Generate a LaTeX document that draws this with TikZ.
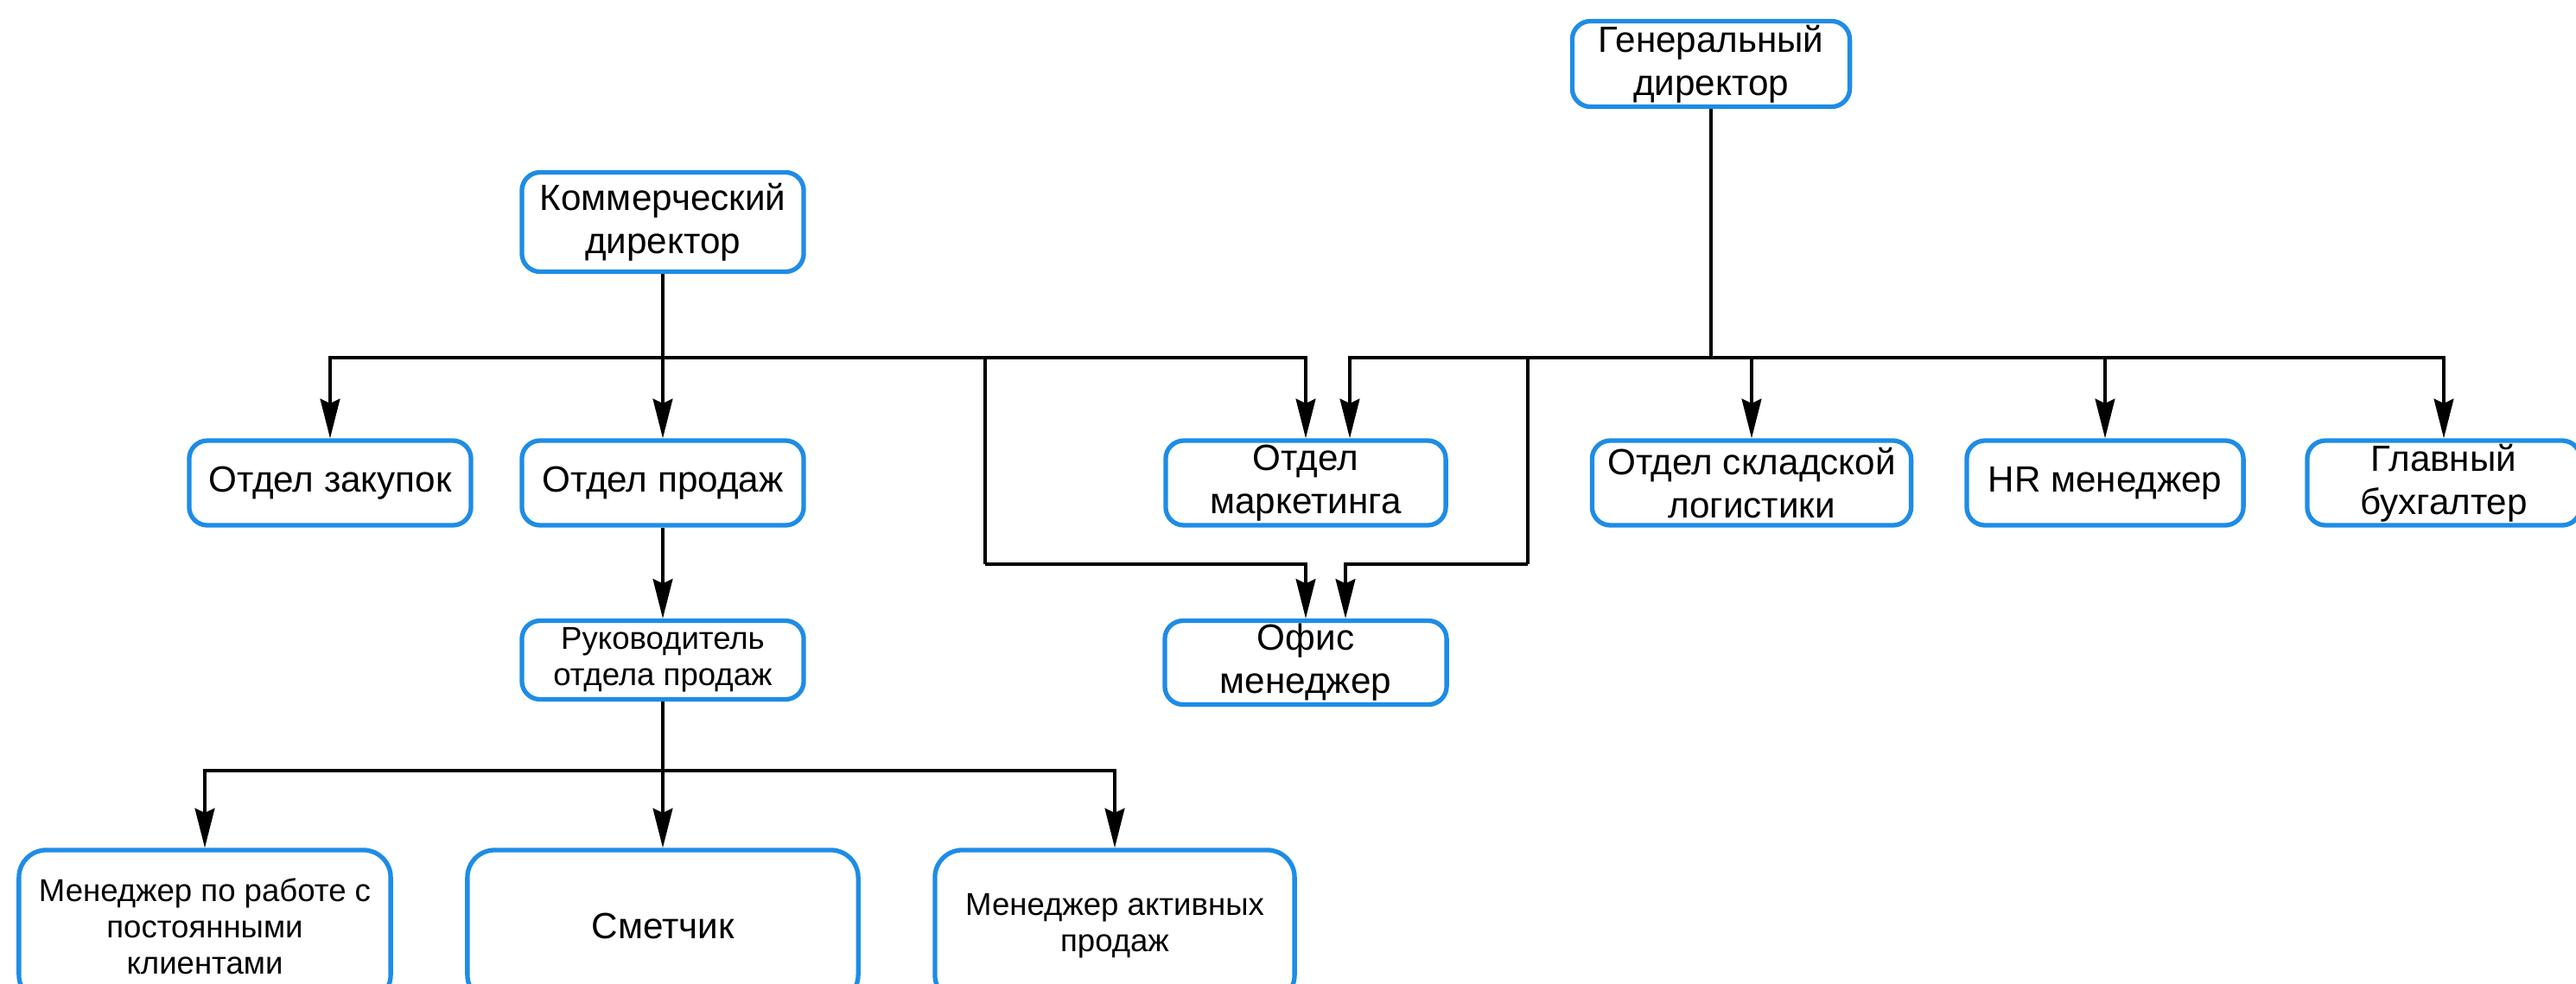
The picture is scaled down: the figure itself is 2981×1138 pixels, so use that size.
\documentclass[tikz,border=0pt]{standalone}
\usepackage{fontspec}
\setmainfont{Liberation Sans}
\usetikzlibrary{arrows.meta,calc}
\definecolor{boxblue}{RGB}{30,140,230}
\begin{document}
\begin{tikzpicture}[x=0.01cm,y=-0.01cm,
  box/.style={draw=boxblue, line width=1.5pt, rounded corners=6pt, fill=white, align=center, inner sep=0pt, font=\fontsize{12}{14.2}\selectfont},
  rowbox/.style={box, minimum height=0.98cm},
  bigbox/.style={box, rounded corners=9pt, minimum height=1.76cm},
  small/.style={font=\fontsize{10.4}{12}\selectfont},
  arr/.style={-{Stealth[length=13pt,width=6.5pt,inset=1.5pt]}, line width=0.9pt},
  ln/.style={line width=0.9pt}]
\useasboundingbox (0,0) rectangle (2981,1138);
% nodes
\node[box, minimum width=3.21cm, minimum height=0.99cm] (gd) at (1980,74) {Генеральный\\директор};
\node[box, minimum width=3.26cm, minimum height=1.15cm] (kd) at (767,257) {Коммерческий\\директор};
\node[rowbox, minimum width=3.26cm] (zak) at (382,559) {Отдел закупок};
\node[rowbox, minimum width=3.26cm] (prod) at (767,559) {Отдел продаж};
\node[rowbox, minimum width=3.24cm] (mark) at (1511,559) {Отдел\\маркетинга};
\node[rowbox, minimum width=3.69cm] (sklad) at (2027,559) {Отдел складской\\логистики};
\node[rowbox, minimum width=3.20cm] (hr) at (2436,559) {HR менеджер};
\node[rowbox, minimum width=3.16cm] (buh) at (2828,559) {Главный\\бухгалтер};
\node[box, small, minimum width=3.26cm, minimum height=0.91cm] (ruk) at (767,764) {Руководитель\\отдела продаж};
\node[box, minimum width=3.26cm, minimum height=0.97cm] (office) at (1511,767) {Офис\\менеджер};
\node[bigbox, small, minimum width=4.30cm] (m1) at (237,1072) {Менеджер по работе с\\постоянными\\клиентами};
\node[bigbox, minimum width=4.52cm] (sm) at (767,1072) {Сметчик};
\node[bigbox, small, minimum width=4.16cm] (m2) at (1290,1072) {Менеджер активных\\продаж};
% junctions
\coordinate (kj) at (767,414);
\coordinate (kd2) at (1140,414);
\coordinate (kd2b) at (1140,653);
\coordinate (gj) at (1980,414);
\coordinate (gd2) at (1768,414);
\coordinate (gd2b) at (1768,653);
\coordinate (rj) at (767,892);
% connectors
\draw[arr] (kd) -- (prod);
\draw[arr] (kj) -| (zak.north);
\draw[arr] (kj) -| (mark.north);
\draw[ln] (kd2) -- (kd2b);
\draw[arr] (kd2b) -| (office.north);
\draw[ln] (gd) -- (gj);
\draw[arr] (gj) -| ($(mark.north)+(51,0)$);
\draw[arr] (gj) -| (sklad.north);
\draw[arr] (gj) -| (hr.north);
\draw[arr] (gj) -| (buh.north);
\draw[ln] (gd2) -- (gd2b);
\draw[arr] (gd2b) -| ($(office.north)+(46,0)$);
\draw[arr] (prod) -- (ruk);
\draw[ln] (ruk) -- (rj);
\draw[arr] (rj) -| (m1.north);
\draw[arr] (rj) -- (sm.north);
\draw[arr] (rj) -| (m2.north);
\end{tikzpicture}
\end{document}
